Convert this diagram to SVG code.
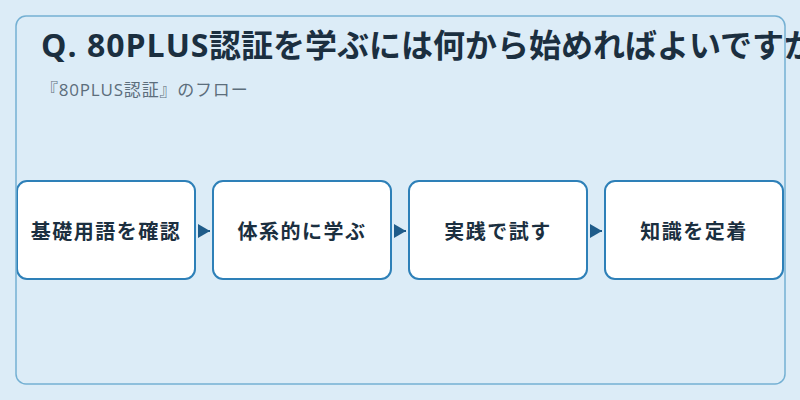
<svg xmlns="http://www.w3.org/2000/svg" width="800" height="400" viewBox="0 0 800 400">
<style>
.title{font-family:"Open Sans","Noto Sans CJK JP",sans-serif;font-weight:700;font-size:32px;fill:#1b2f40}
.sub{font-family:"Open Sans","Noto Sans CJK JP",sans-serif;font-size:17px;fill:#5c6e7c;letter-spacing:0.8px}
.node rect{fill:#ffffff;stroke:#2e80b8;stroke-width:2}
.node text{font-family:"Noto Sans CJK JP","Noto Sans",sans-serif;font-weight:700;font-size:20px;fill:#1b2f40;letter-spacing:1.5px;text-anchor:middle}
.conn{stroke:#1f5c8a;stroke-width:2;fill:none}
</style>
<defs>
<marker id="arrow" viewBox="0 0 12 14" refX="12" refY="7" markerWidth="12" markerHeight="14" markerUnits="userSpaceOnUse" orient="auto">
<path d="M0,0 L12,7 L0,14 Z" fill="#1f5c8a"/>
</marker>
</defs>
<rect x="0" y="0" width="800" height="400" fill="#dcecf7"/>
<rect x="16" y="16" width="769" height="368" rx="10" fill="#dcecf7"/>
<text class="title" x="41" y="57"><tspan letter-spacing="1">Q. 80PLUS</tspan><tspan x="209">認証を学ぶには何から始めればよいですか</tspan></text>
<text class="sub" x="41" y="96">『80PLUS認証』のフロー</text>
<g id="connectors">
<line class="conn" x1="199" y1="231" x2="210" y2="231" marker-end="url(#arrow)"/>
<line class="conn" x1="395" y1="231" x2="406" y2="231" marker-end="url(#arrow)"/>
<line class="conn" x1="591" y1="231" x2="602" y2="231" marker-end="url(#arrow)"/>
</g>
<g id="node1" class="node"><rect x="17" y="181" width="178" height="98" rx="10"/><text x="106" y="239">基礎用語を確認</text></g>
<g id="node2" class="node"><rect x="213" y="181" width="178" height="98" rx="10"/><text x="302" y="239">体系的に学ぶ</text></g>
<g id="node3" class="node"><rect x="409" y="181" width="178" height="98" rx="10"/><text x="498" y="239">実践で試す</text></g>
<g id="node4" class="node"><rect x="605" y="181" width="178" height="98" rx="10"/><text x="694" y="239">知識を定着</text></g>
<rect x="16" y="16" width="769" height="368" rx="10" fill="none" stroke="#74b0d3" stroke-width="1.5"/>
</svg>
